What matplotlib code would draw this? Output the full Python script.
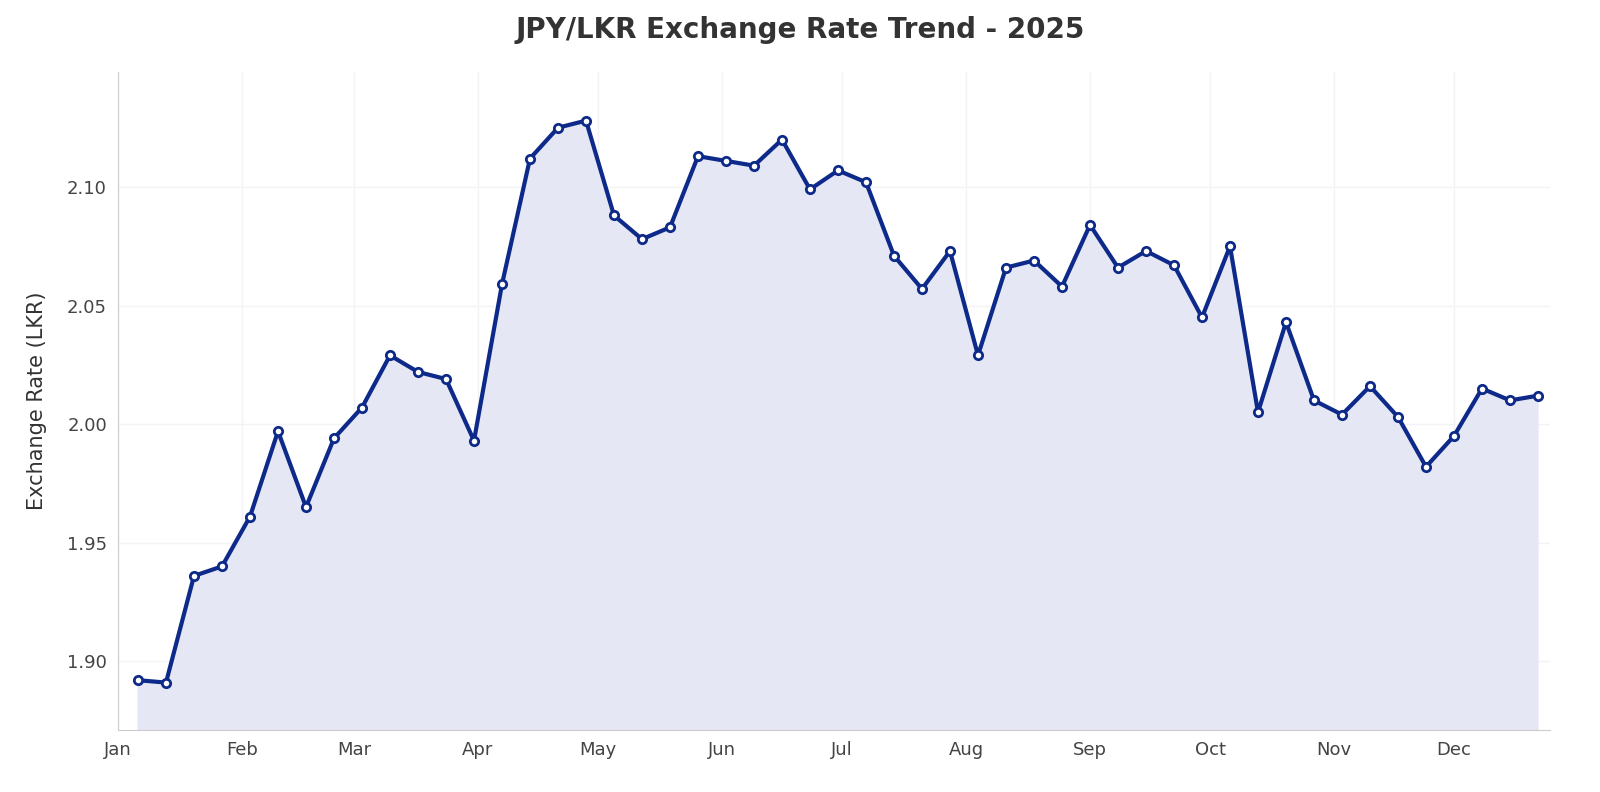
import matplotlib
matplotlib.use("Agg")
import matplotlib.pyplot as plt
import matplotlib.dates as mdates
import numpy as np
import pandas as pd

dates = pd.date_range("2025-01-06", periods=51, freq="7D")
rates = [1.892,1.891,1.936,1.940,1.961,1.997,1.965,1.994,2.007,2.029,2.022,2.019,1.993,2.059,
         2.112,2.125,2.128,2.088,2.078,2.083,2.113,2.111,2.109,2.120,2.099,2.107,2.102,2.071,
         2.057,2.073,2.029,2.066,2.069,2.058,2.084,2.066,2.073,2.067,2.045,2.075,2.005,2.043,
         2.010,2.004,2.016,2.003,1.982,1.995,2.015,2.010,2.012]
title = "JPY/LKR Exchange Rate Trend - 2025"
ylabel = "Exchange Rate (LKR)"

fig = plt.figure(figsize=(16, 7.92), dpi=100)
ax = fig.add_axes([118/1600, 1-730/792, (1550-118)/1600, (730-72)/792])
ax.fill_between(dates, rates, 1.0, color="#e6e7f4", zorder=1)
ax.plot(dates, rates, color="#0d2a8a", lw=3, marker="o", ms=6, mfc="white", mec="#0d2a8a", mew=2, zorder=3)
ax.set_ylim(1.871, 2.1485)
ax.set_xlim(pd.Timestamp("2025-01-01"), pd.Timestamp("2025-12-25"))
ax.set_yticks([1.90, 1.95, 2.00, 2.05, 2.10])
ax.yaxis.set_major_formatter(matplotlib.ticker.FormatStrFormatter("%.2f"))
ax.xaxis.set_major_locator(mdates.MonthLocator())
ax.xaxis.set_major_formatter(mdates.DateFormatter("%b"))
ax.grid(True, color="#f3f3f6", lw=1, zorder=0)
ax.set_axisbelow(True)
for s in ["top", "right"]:
    ax.spines[s].set_visible(False)
for s in ["left", "bottom"]:
    ax.spines[s].set_color("#cccccc")
ax.tick_params(length=0, labelsize=13, labelcolor="#444444", pad=8)
ax.set_ylabel(ylabel, fontsize=15, color="#333333", labelpad=14)
fig.suptitle(title, fontsize=20, fontweight="bold", color="#333333", y=0.98)
fig.savefig("out.png", dpi=100, facecolor="white")
